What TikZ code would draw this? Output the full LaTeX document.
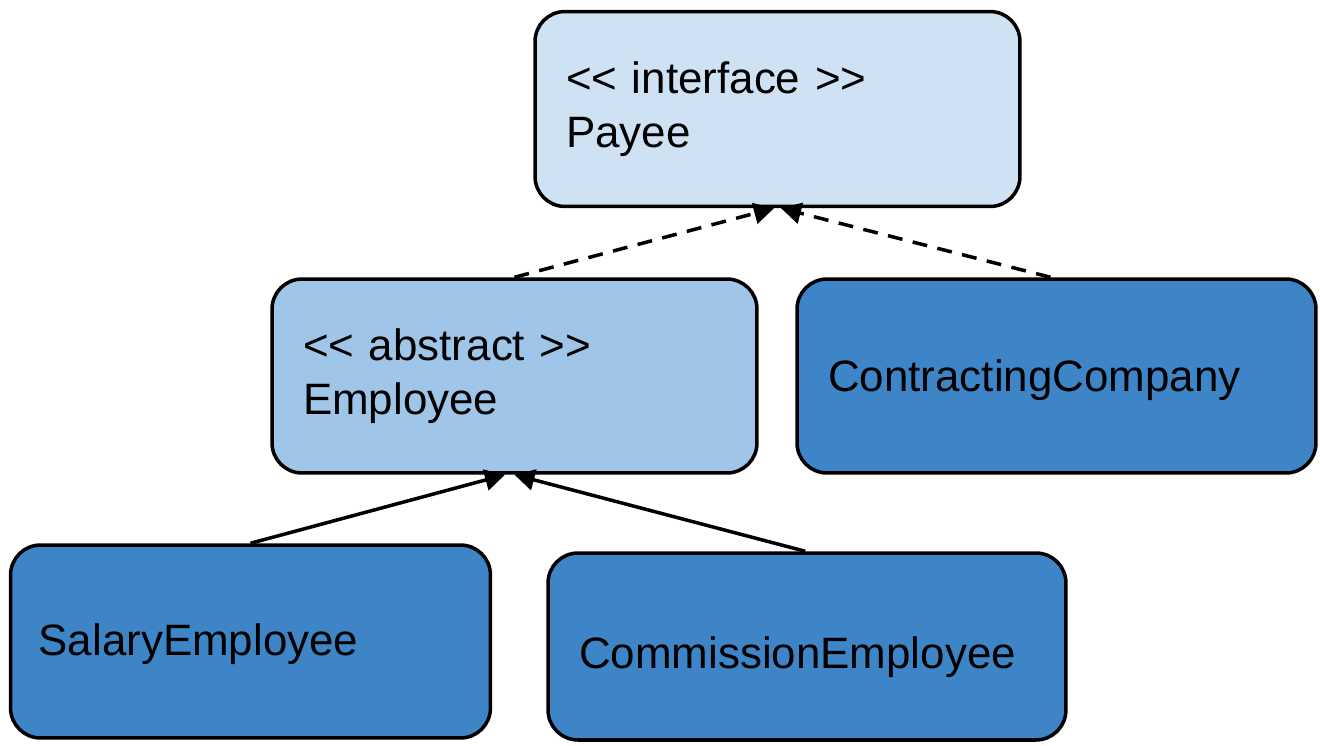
\documentclass[tikz,border=0pt]{standalone}
\usepackage{fontspec}
\setmainfont{Liberation Sans}
\usetikzlibrary{arrows.meta, positioning}

\definecolor{paleblue}{HTML}{CFE2F3}
\definecolor{midblue}{HTML}{9FC5E8}
\definecolor{darkblue}{HTML}{3D85C6}

\tikzset{
  cls/.style={draw, line width=2pt, rounded corners=0.6cm, inner xsep=0.62cm, align=left,
    font=\fontsize{25}{30.5}\selectfont},
  realize/.style={-{Triangle[length=0.4cm,width=0.42cm]}, line width=2pt, dash pattern=on 8.5pt off 6pt},
  inherit/.style={-{Triangle[length=0.4cm,width=0.42cm]}, line width=2pt}
}

\begin{document}
\begin{tikzpicture}[x=0.02cm, y=-0.02cm]
        \useasboundingbox (0,0) rectangle (1320,745);
        \node[cls, fill=paleblue, minimum height=3.9cm, text width=8.46cm] (payee) at (777.5,109) {{<}{<} interface {>}{>}\\Payee};
        \node[cls, fill=midblue, minimum height=3.88cm, text width=8.46cm] (employee) at (514.5,376) {{<}{<} abstract {>}{>}\\Employee};
        \node[cls, fill=darkblue, minimum height=3.88cm, text width=9.14cm] (contractor) at (1056.5,376) {\raisebox{-2.5pt}[\height][\depth]{ContractingCompany}};
        \node[cls, fill=darkblue, minimum height=3.86cm, text width=8.48cm, inner xsep=0.56cm] (salaried) at (250.5,641.5) {\raisebox{-1.5pt}[\height][\depth]{SalaryEmployee}};
        \node[cls, fill=darkblue, minimum height=3.74cm, text width=9.12cm] (commission) at (807,646.5) {\raisebox{-6pt}[\height][\depth]{CommissionEmployee}};

        % realization of the interface
        \draw[realize] (employee.north) -- ([xshift=-2pt]payee.south);
        \draw[realize] ([xshift=-3.4pt]contractor.north) -- ([xshift=2pt]payee.south);
        % inheritance
        \draw[inherit] (salaried.north) -- ([xshift=-5.4pt]employee.south);
        \draw[inherit] ([xshift=-1pt]commission.north) -- (employee.south);
      \end{tikzpicture}
\end{document}
